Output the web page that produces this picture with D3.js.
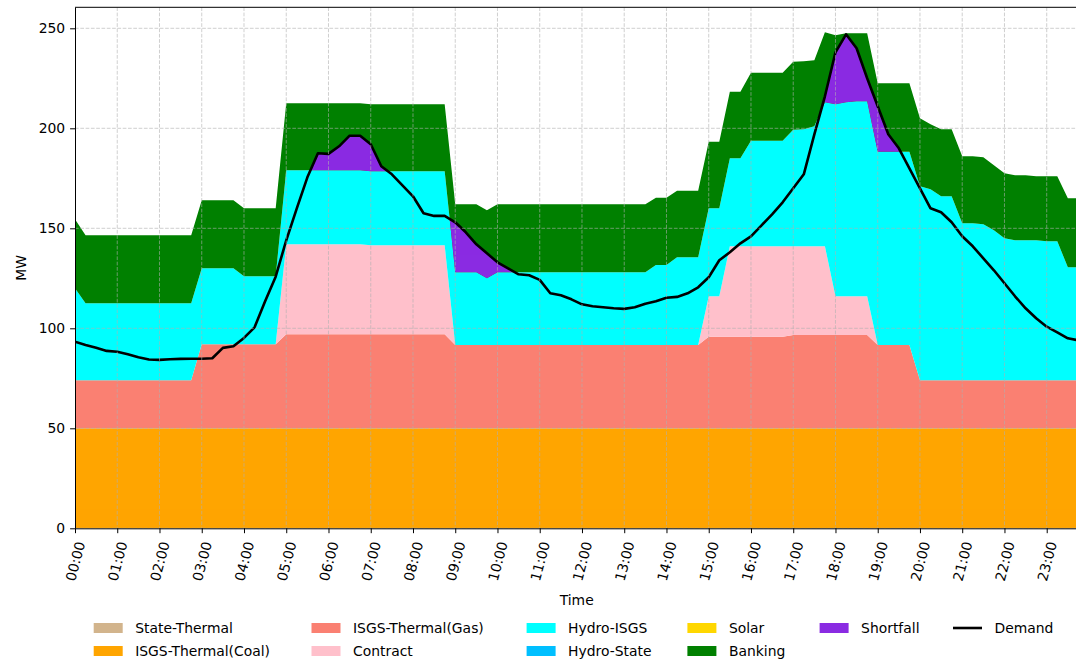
<!DOCTYPE html>
<html>
<head>
<meta charset="utf-8">
<script src="https://cdn.jsdelivr.net/npm/d3@7/dist/d3.min.js"></script>
<style>
  html, body { margin: 0; padding: 0; background: #fff; }
  svg { display: block; font-family: "DejaVu Sans", sans-serif; }
</style>
</head>
<body>
<svg id="chart" width="1076" height="662"></svg>
<script>
// ---------------- DATA ----------------
const times = [
 "00:00","00:15","00:30","00:45","01:00","01:15","01:30","01:45",
 "02:00","02:15","02:30","02:45","03:00","03:15","03:30","03:45",
 "04:00","04:15","04:30","04:45","05:00","05:15","05:30","05:45",
 "06:00","06:15","06:30","06:45","07:00","07:15","07:30","07:45",
 "08:00","08:15","08:30","08:45","09:00","09:15","09:30","09:45",
 "10:00","10:15","10:30","10:45","11:00","11:15","11:30","11:45",
 "12:00","12:15","12:30","12:45","13:00","13:15","13:30","13:45",
 "14:00","14:15","14:30","14:45","15:00","15:15","15:30","15:45",
 "16:00","16:15","16:30","16:45","17:00","17:15","17:30","17:45",
 "18:00","18:15","18:30","18:45","19:00","19:15","19:30","19:45",
 "20:00","20:15","20:30","20:45","21:00","21:15","21:30","21:45",
 "22:00","22:15","22:30","22:45","23:00","23:15","23:30","23:45"
];
const hourTicks = ["00:00","01:00","02:00","03:00","04:00","05:00","06:00","07:00",
 "08:00","09:00","10:00","11:00","12:00","13:00","14:00","15:00",
 "16:00","17:00","18:00","19:00","20:00","21:00","22:00","23:00"];
const yTicks = [0, 50, 100, 150, 200, 250];

const stateThermal = [
 0,0,0,0,0,0,0,0, 0,0,0,0,0,0,0,0, 0,0,0,0,0,0,0,0, 0,0,0,0,0,0,0,0,
 0,0,0,0,0,0,0,0, 0,0,0,0,0,0,0,0, 0,0,0,0,0,0,0,0, 0,0,0,0,0,0,0,0,
 0,0,0,0,0,0,0,0, 0,0,0,0,0,0,0,0, 0,0,0,0,0,0,0,0, 0,0,0,0,0,0,0,0
];
const coal = [
 50,50,50,50,50,50,50,50, 50,50,50,50,50,50,50,50, 50,50,50,50,50,50,50,50,
 50,50,50,50,50,50,50,50, 50,50,50,50,50,50,50,50, 50,50,50,50,50,50,50,50,
 50,50,50,50,50,50,50,50, 50,50,50,50,50,50,50,50, 50,50,50,50,50,50,50,50,
 50,50,50,50,50,50,50,50, 50,50,50,50,50,50,50,50, 50,50,50,50,50,50,50,50
];
const gas = [
 24,24,24,24,24,24,24,24, 24,24,24,24,42,42,42,42,
 42,42,42,42,47,47,47,47, 47,47,47,47,47,47,47,47,
 47,47,47,47,41.7,41.7,41.7,41.7, 41.7,41.7,41.7,41.7,41.7,41.7,41.7,41.7,
 41.7,41.7,41.7,41.7,41.7,41.7,41.7,41.7, 41.7,41.7,41.7,41.7,45.8,45.8,45.8,45.8,
 45.8,45.8,45.8,45.8,46.7,46.7,46.7,46.7, 46.7,46.7,46.7,46.7,41.7,41.7,41.7,41.7,
 24,24,24,24,24,24,24,24, 24,24,24,24,24,24,24,24
];
const contract = [
 0,0,0,0,0,0,0,0, 0,0,0,0,0,0,0,0,
 0,0,0,0,45,45,45,45, 45,45,45,45,44.5,44.5,44.5,44.5,
 44.5,44.5,44.5,44.5,0,0,0,0, 0,0,0,0,0,0,0,0,
 0,0,0,0,0,0,0,0, 0,0,0,0,20.2,20.2,45.2,45.2,
 45.2,45.2,45.2,45.2,44.3,44.3,44.3,44.3, 19.3,19.3,19.3,19.3,0,0,0,0,
 0,0,0,0,0,0,0,0, 0,0,0,0,0,0,0,0
];
const hydroISGS = [
 46,38.5,38.5,38.5,38.5,38.5,38.5,38.5, 38.5,38.5,38.5,38.5,38,38,38,38,
 34,34,34,34,37,37,37,37, 37,37,37,37,37,37,37,37,
 37,37,37,37,36.3,36.3,36.3,33.3, 36.3,36.3,36.3,36.3,36.3,36.3,36.3,36.3,
 36.3,36.3,36.3,36.3,36.3,36.3,36.3,40, 40,43.8,43.8,43.8,44,44,44,44,
 52.8,52.8,52.8,52.8,58.3,58.5,60,72, 96,97,97.5,97.5,96.6,96.6,96.6,96.6,
 97,95.5,92,92,78.5,78.5,78,75, 71,70,70,70,69.5,69.5,56.5,56.5
];
const hydroState = [
 0,0,0,0,0,0,0,0, 0,0,0,0,0,0,0,0, 0,0,0,0,0,0,0,0, 0,0,0,0,0,0,0,0,
 0,0,0,0,0,0,0,0, 0,0,0,0,0,0,0,0, 0,0,0,0,0,0,0,0, 0,0,0,0,0,0,0,0,
 0,0,0,0,0,0,0,0, 0,0,0,0,0,0,0,0, 0,0,0,0,0,0,0,0, 0,0,0,0,0,0,0,0
];
const solar = [
 0,0,0,0,0,0,0,0, 0,0,0,0,0,0,0,0, 0,0,0,0,0,0,0,0, 0,0,0,0,0,0,0,0,
 0,0,0,0,0,0,0,0, 0,0,0,0,0,0,0,0, 0,0,0,0,0,0,0,0, 0,0,0,0,0,0,0,0,
 0,0,0,0,0,0,0,0, 0,0,0,0,0,0,0,0, 0,0,0,0,0,0,0,0, 0,0,0,0,0,0,0,0
];
const banking = [
 34.5,34,34,34,34,34,34,34, 34,34,34,34,34,34,34,34,
 34,34,34,34,33.5,33.5,33.5,33.5, 33.5,33.5,33.5,33.5,33.5,33.5,33.5,33.5,
 33.5,33.5,33.5,33.5,34,34,34,34, 34,34,34,34,34,34,34,34,
 34,34,34,34,34,34,34,33.6, 33.6,33.3,33.3,33.3,33.3,33.3,33.3,33.3,
 34,34,34,34,34,34,33,35, 34.5,34.5,34,34,34.2,34.2,34.2,34.2,
 34,32.5,33.5,33.5,33.5,33.5,33.5,32.5, 32.5,32.5,32.5,32,32.5,32.5,34.5,34.5
];
const demand = [
 93.3,91.7,90.3,88.7,88.3,87.0,85.5,84.4,
 84.2,84.5,84.7,84.8,84.8,85.0,90.2,91.0,
 95.2,100.5,113.5,125.8,144.0,160.0,175.5,187.5,
 187.2,191.0,196.3,196.3,192.0,181.0,177.0,171.5,
 166.0,157.5,156.2,156.2,153.0,148.0,142.0,137.5,
 133.0,130.0,127.0,126.5,124.2,117.5,116.5,114.5,
 112.0,111.0,110.5,110.0,109.7,110.5,112.3,113.5,
 115.3,115.7,117.5,120.5,125.5,134.0,138.0,142.5,
 146.0,151.5,157.0,163.0,170.0,177.0,197.0,216.0,
 238.0,247.0,240.0,225.0,211.0,197.0,190.0,180.0,
 170.0,160.0,158.0,153.0,146.0,141.0,135.0,129.0,
 122.5,116.0,110.0,105.0,100.8,98.0,95.0,94.0
];

const seriesNames = ["State-Thermal","ISGS-Thermal(Coal)","ISGS-Thermal(Gas)","Contract",
  "Hydro-ISGS","Hydro-State","Solar","Banking"];
const seriesValues = [stateThermal, coal, gas, contract, hydroISGS, hydroState, solar, banking];
const seriesColors = ["#d2b48c","#ffa500","#fa8072","#ffc0cb","#00ffff","#00bfff","#ffd700","#008000"];
const shortfallColor = "#8a2be2";

// ---------------- LAYOUT ----------------
const svg = d3.select("#chart");
const L = 75, R = 1078.4, T = 7.3, B = 528.3;
const font = 13.9;

const x = d3.scalePoint().domain(times).range([L, R]);
const y = d3.scaleLinear().domain([0, 260.5]).range([B, T]);

const rows = times.map((t, i) => {
  const r = { time: t };
  seriesNames.forEach((n, k) => r[n] = seriesValues[k][i]);
  return r;
});
const stack = d3.stack().keys(seriesNames)(rows);

const defs = svg.append("defs");
defs.append("clipPath").attr("id", "plotclip")
  .append("rect").attr("x", L).attr("y", T).attr("width", R - L).attr("height", B - T);

const plot = svg.append("g").attr("clip-path", "url(#plotclip)");

const area = d3.area()
  .x(d => x(d.data.time))
  .y0(d => y(d[0]))
  .y1(d => y(d[1]));

plot.selectAll("path.layer").data(stack).join("path")
  .attr("class", "layer")
  .attr("fill", (d, k) => seriesColors[k])
  .attr("d", area);

// shortfall: region between supply (all but banking) and demand where demand exceeds it
const supplyTop = stack[stack.length - 2].map(d => d[1]);
const polys = [];
let cur = null;
for (let i = 0; i < times.length; i++) {
  const d = demand[i] - supplyTop[i];
  if (i > 0) {
    const dp = demand[i - 1] - supplyTop[i - 1];
    if ((dp > 0) !== (d > 0)) {
      const t = dp / (dp - d);
      const xc = x(times[i - 1]) + t * (x(times[i]) - x(times[i - 1]));
      const yc = supplyTop[i - 1] + t * (supplyTop[i] - supplyTop[i - 1]);
      if (d > 0) { cur = [{ x: xc, lo: yc, hi: yc }]; }
      else if (cur) { cur.push({ x: xc, lo: yc, hi: yc }); polys.push(cur); cur = null; }
    }
  }
  if (d > 0) { if (!cur) cur = []; cur.push({ x: x(times[i]), lo: supplyTop[i], hi: demand[i] }); }
}
if (cur) polys.push(cur);
const sArea = d3.area().x(p => p.x).y0(p => y(p.lo)).y1(p => y(p.hi));
plot.selectAll("path.short").data(polys).join("path")
  .attr("class", "short").attr("fill", shortfallColor).attr("d", sArea);

// grid
const grid = svg.append("g").attr("clip-path", "url(#plotclip)")
  .attr("stroke", "#b0b0b0").attr("stroke-width", 0.8)
  .attr("stroke-dasharray", "3.7,1.6").attr("opacity", 0.75);
grid.selectAll("line.v").data(hourTicks).join("line")
  .attr("x1", d => x(d)).attr("x2", d => x(d)).attr("y1", T).attr("y2", B);
grid.selectAll("line.h").data(yTicks).join("line")
  .attr("x1", L).attr("x2", R).attr("y1", d => y(d)).attr("y2", d => y(d));

// demand line
plot.append("path")
  .datum(demand)
  .attr("fill", "none").attr("stroke", "#000").attr("stroke-width", 2.6)
  .attr("stroke-linejoin", "round")
  .attr("d", d3.line().x((d, i) => x(times[i])).y(d => y(d)));

// spines
svg.append("line").attr("x1", L).attr("x2", R).attr("y1", T).attr("y2", T)
  .attr("stroke", "#000").attr("stroke-width", 1);

// axes
const xAxis = svg.append("g").attr("transform", `translate(0,${B})`)
  .call(d3.axisBottom(x).tickValues(hourTicks).tickSize(4.9).tickSizeOuter(0));
xAxis.select(".domain").attr("stroke", "#000").attr("stroke-width", 1);
xAxis.selectAll(".tick line").attr("stroke", "#000").attr("stroke-width", 1);
xAxis.selectAll(".tick text")
  .attr("font-size", font).attr("font-family", "DejaVu Sans").attr("fill", "#000")
  .attr("y", 0).attr("dy", "0.35em")
  .attr("text-anchor", "middle")
  .attr("transform", "translate(0,33) rotate(-75)");

const yAxis = svg.append("g").attr("transform", `translate(${L},0)`)
  .call(d3.axisLeft(y).tickValues(yTicks).tickSize(4.9).tickPadding(4.9).tickSizeOuter(0));
yAxis.select(".domain").attr("stroke", "#000").attr("stroke-width", 1);
yAxis.selectAll(".tick line").attr("stroke", "#000").attr("stroke-width", 1);
yAxis.selectAll(".tick text")
  .attr("font-size", font).attr("font-family", "DejaVu Sans").attr("fill", "#000");

// axis labels
svg.append("text").attr("x", (L + R) / 2).attr("y", 600).attr("dy", "0.35em")
  .attr("text-anchor", "middle").attr("font-size", font).text("Time");
svg.append("text").attr("transform", `translate(21.5,${(T + B) / 2}) rotate(-90)`)
  .attr("dy", "0.35em").attr("text-anchor", "middle").attr("font-size", font).text("MW");

// legend
const legendItems = [
  { name: "State-Thermal", color: seriesColors[0], col: 0, row: 0 },
  { name: "ISGS-Thermal(Coal)", color: seriesColors[1], col: 0, row: 1 },
  { name: "ISGS-Thermal(Gas)", color: seriesColors[2], col: 1, row: 0 },
  { name: "Contract", color: seriesColors[3], col: 1, row: 1 },
  { name: "Hydro-ISGS", color: seriesColors[4], col: 2, row: 0 },
  { name: "Hydro-State", color: seriesColors[5], col: 2, row: 1 },
  { name: "Solar", color: seriesColors[6], col: 3, row: 0 },
  { name: "Banking", color: seriesColors[7], col: 3, row: 1 },
  { name: "Shortfall", color: shortfallColor, col: 4, row: 0 },
  { name: "Demand", color: "#000", col: 5, row: 0, line: true }
];
const colX = [93.7, 311.5, 526.6, 687.4, 819.6, 953];
const rowY = [628, 651];
const lg = svg.append("g");
legendItems.forEach(it => {
  const gx = colX[it.col], gy = rowY[it.row];
  if (it.line) {
    lg.append("line").attr("x1", gx).attr("x2", gx + 29).attr("y1", gy).attr("y2", gy)
      .attr("stroke", it.color).attr("stroke-width", 2.6);
  } else {
    lg.append("rect").attr("x", gx).attr("y", gy - 5).attr("width", 29).attr("height", 10)
      .attr("fill", it.color);
  }
  lg.append("text").attr("x", gx + 41.5).attr("y", gy).attr("dy", "0.35em")
    .attr("font-size", font).attr("fill", "#000").text(it.name);
});
</script>
</body>
</html>
